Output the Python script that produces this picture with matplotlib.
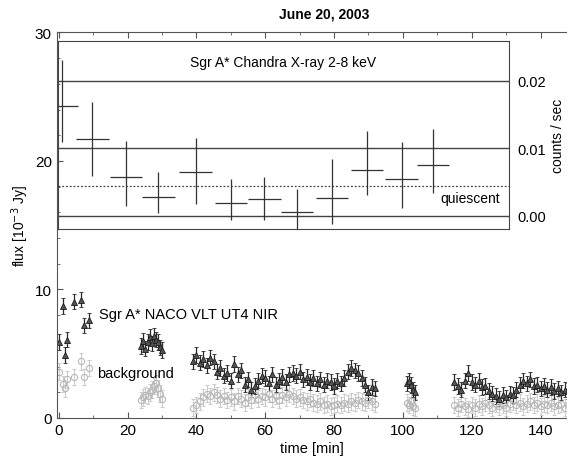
import numpy as np
import matplotlib.pyplot as plt
from matplotlib.ticker import MultipleLocator

plt.rcParams['font.family'] = ['Liberation Sans', 'DejaVu Sans']

# Chandra X-ray light curve (inset), 2-8 keV
xray_t = [0.9, 9.8, 19.5, 29.0, 39.8, 50.1, 59.8, 69.2, 79.5, 89.7, 99.7, 108.9]
xray_rate = [0.0163, 0.0114, 0.0058, 0.0027, 0.0065, 0.0019, 0.0024, 0.0005, 0.0026, 0.0068, 0.0054, 0.0075]
xray_hi = [0.0230, 0.0168, 0.0110, 0.0065, 0.0115, 0.0054, 0.0057, 0.0040, 0.0084, 0.0126, 0.0109, 0.0129]
xray_lo = [0.0109, 0.0059, 0.0015, 0.0004, 0.0017, -0.0007, -0.0006, -0.0022, -0.0012, 0.0030, 0.0012, 0.0034]
xray_binhalf = 4.7
quiescent = 0.0044
count_ticks = [0.00, 0.01, 0.02]

# NACO NIR flux of Sgr A* and background, 10^-3 Jy
t_nir = [0.1, 1.1, 1.8, 2.3, 4.5, 6.5, 7.4, 8.9,
         24.0, 24.6, 25.2, 25.8, 26.4, 27.0, 27.6, 28.2, 28.8, 29.4, 30.0,
         39, 40, 41, 42, 43, 44, 45, 46, 47, 48, 49, 50, 51, 52, 53, 54, 55, 56, 57, 58,
         59, 60, 61, 62, 63, 64, 65, 66, 67, 68, 69, 70, 71, 72, 73, 74, 75, 76, 77, 78,
         79, 80, 81, 82, 83, 84, 85, 86, 87, 88, 89, 90, 91, 92,
         101.2, 101.8, 102.4, 103.0, 103.5,
         115, 116, 117, 118, 119, 120, 121, 122, 123, 124, 125, 126, 127, 128, 129, 130, 131,
         132, 133, 134, 135, 136, 137, 138, 139, 140, 141, 142, 143, 144, 145, 146, 147, 148]
f_nir = [5.9, 8.7, 4.9, 6.1, 9.05, 9.2, 7.2, 7.6,
         5.6, 6.0, 5.4, 5.9, 6.3, 5.8, 6.4, 6.1, 5.9, 5.5, 5.3,
         4.4, 4.9, 4.3, 4.6, 4.1, 4.7, 4.4, 3.6, 3.9, 3.3, 3.5, 2.9, 4.2, 3.4, 3.7, 2.6, 3.0, 2.2, 2.5, 2.9,
         3.3, 3.1, 2.7, 3.4, 2.6, 2.9, 3.2, 2.8, 3.4, 3.5, 3.3, 3.6, 3.0, 3.2, 2.8, 3.1, 2.7, 3.0, 2.6, 2.9,
         2.8, 2.5, 2.9, 2.7, 3.1, 3.6, 3.9, 3.7, 3.5, 3.1, 2.6, 2.0, 2.4, 2.3,
         2.7, 2.9, 2.6, 2.2, 2.0,
         2.8, 2.5, 2.2, 2.9, 3.5, 2.8, 2.6, 2.9, 2.4, 2.5, 2.1, 1.9, 1.7, 1.5, 1.8, 1.6, 1.9,
         1.8, 2.2, 2.6, 2.9, 2.7, 3.0, 2.5, 2.6, 2.3, 2.5, 2.2, 2.4, 2.1, 2.3, 2.0, 2.2, 2.1]
f_bg = [3.6, 2.65, 2.3, 3.0, 3.2, 4.4, 3.2, 3.9,
        1.4, 1.6, 1.8, 1.7, 2.0, 2.2, 2.5, 2.7, 2.3, 1.9, 1.5,
        0.8, 1.0, 1.3, 1.6, 1.9, 1.7, 2.0, 1.8, 1.5, 1.7, 1.4, 1.6, 1.3, 1.7, 1.5, 1.2, 1.6, 1.4, 1.8, 1.5,
        1.7, 1.6, 1.9, 1.5, 1.7, 1.4, 1.8, 1.6, 1.9, 1.7, 1.5, 1.6, 1.4, 1.3, 1.5, 1.2, 1.1, 1.3, 1.0, 1.1,
        0.9, 1.0, 1.1, 1.0, 1.2, 1.1, 1.3, 1.2, 1.4, 1.3, 1.2, 1.4, 1.3, 1.1,
        1.2, 1.0, 1.3, 0.9, 0.8,
        1.0, 0.8, 1.1, 0.9, 0.7, 1.0, 0.8, 1.1, 0.9, 1.2, 1.0, 0.8, 1.1, 0.9, 1.0, 0.8, 1.1,
        1.3, 1.0, 1.2, 0.9, 1.1, 1.3, 1.0, 1.2, 0.9, 1.1, 1.0, 1.2, 0.9, 1.0, 1.1, 0.8, 1.0]
nir_err = 0.6
bg_err = 0.65

fig = plt.figure(figsize=(5.67, 4.64), dpi=100)
ax = fig.add_axes([0.1, 0.097, 0.9, 0.831])

ax.errorbar(t_nir, f_bg, yerr=bg_err, fmt='o', ms=4.5, mfc='none', mec='#b8b8b8',
            mew=0.8, ecolor='#cccccc', elinewidth=0.8, capsize=1.5)
ax.errorbar(t_nir, f_nir, yerr=nir_err, fmt='^', ms=4, mfc='#555555', mec='#1a1a1a',
            mew=0.6, ecolor='#2a2a2a', elinewidth=0.9, capsize=1.5)

ax.set_xlim(-0.6, 147.7)
ax.set_ylim(0, 30)
ax.xaxis.set_major_locator(MultipleLocator(20))
ax.xaxis.set_minor_locator(MultipleLocator(10))
ax.yaxis.set_major_locator(MultipleLocator(10))
ax.yaxis.set_minor_locator(MultipleLocator(2))
ax.tick_params(which='both', direction='in', top=True, right=False, colors='#555555',
               labelcolor='black', labelsize=11)
ax.tick_params(which='major', length=4)
ax.tick_params(which='minor', length=2.5)
for s in ['left', 'bottom', 'top']:
    ax.spines[s].set_color('#555555')
ax.spines['right'].set_visible(False)
ax.set_xlabel('time [min]', fontsize=10.5, labelpad=3)
ax.set_ylabel('flux [10$^{-3}$ Jy]', fontsize=10, labelpad=3)

ax.text(11.8, 8.1, 'Sgr A* NACO VLT UT4 NIR', va='center', fontsize=10.5)
ax.text(11.0, 3.5, 'background', va='center', fontsize=10.5)

fig.text(0.572, 0.968, 'June 20, 2003', ha='center', va='center', fontsize=10, fontweight='bold')

# X-ray inset
ins = fig.add_axes([0.1028, 0.5043, 0.7954, 0.4058])
ins.set_xlim(-0.12, 131.0)
ins.set_ylim(-0.00197, 0.0259)
ins.patch.set_alpha(0)
for s in ins.spines.values():
    s.set_color('#444444')
for c in count_ticks:
    ins.axhline(c, color='#444444', lw=1)
ins.axhline(quiescent, color='#444444', lw=0.9, ls=(0, (1.5, 1.5)))

rate = np.array(xray_rate)
yerr = [rate - np.array(xray_lo), np.array(xray_hi) - rate]
ins.errorbar(xray_t, rate, xerr=xray_binhalf, yerr=yerr, fmt='none', ecolor='#333333', elinewidth=0.9)

ins.set_xticks([])
ins.yaxis.tick_right()
ins.yaxis.set_label_position('right')
ins.set_yticks(count_ticks)
ins.set_yticklabels(['%.2f' % c for c in count_ticks])
ins.tick_params(axis='y', length=0, pad=6, labelsize=10.5)
ins.set_ylabel('counts / sec', fontsize=10, labelpad=3)

ins.text(65.2, 0.0228, 'Sgr A* Chandra X-ray 2-8 keV', ha='center', va='center', fontsize=10)
ins.text(128.3, 0.0026, 'quiescent', ha='right', va='center', fontsize=10)

fig.savefig('out.png', dpi=100)
